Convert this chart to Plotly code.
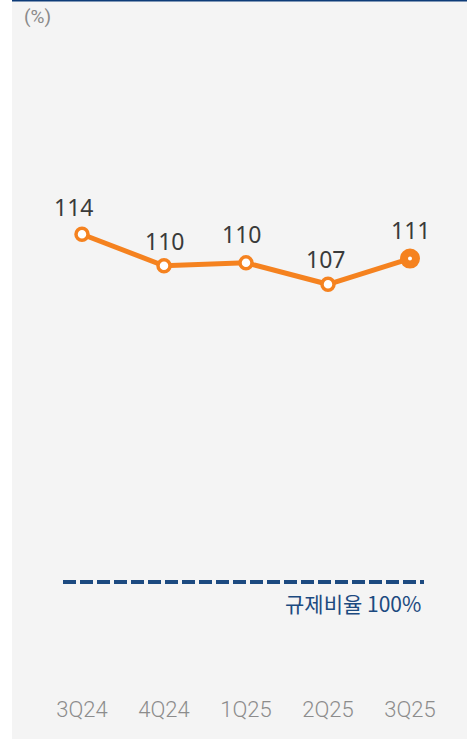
import plotly.graph_objects as go

quarters = ["3Q24", "4Q24", "1Q25", "2Q25", "3Q25"]
ratio = [114.0, 109.6, 110.0, 107.0, 110.6]
ratio_labels = ["114", "110", "110", "107", "111"]
unit_label = "(%)"
reg_label = "규제비율 100%"

# label nudges (style only)
label_dx = [-9, 0, -5, -3, 0]
label_dy = [9, 7, 11, 7, 11]

W, H = 467, 739
ML, MR, MT, MB = 41, 16, 0, 45
PW, PH = W - ML - MR, H - MT - MB

def px_x(px):
    return (px - ML) / PW

def px_y(py):
    return 1 - (py - MT) / PH

orange = "#f5821f"
navy = "#1c4a80"

n = len(quarters)
sizes = [12] * (n - 1) + [12]
lwidths = [3.5] * (n - 1) + [8]

fig = go.Figure()
fig.add_trace(go.Scatter(
    x=quarters, y=ratio, mode="lines+markers",
    line=dict(color=orange, width=5),
    marker=dict(size=sizes, color="white", opacity=1,
                line=dict(color=orange, width=lwidths)),
    cliponaxis=False, hoverinfo="skip",
))

annotations = []
for q, v, t, dx, dy in zip(quarters, ratio, ratio_labels, label_dx, label_dy):
    annotations.append(dict(
        x=q, y=v, xref="x", yref="y", text=t, showarrow=False,
        xanchor="center", yanchor="bottom", xshift=dx, yshift=dy,
        font=dict(family="Noto Sans", size=23, color="#3a3a3a")))

annotations += [
    dict(text=unit_label, xref="paper", yref="paper", x=px_x(37), y=px_y(17),
         xanchor="center", yanchor="middle", showarrow=False,
         font=dict(family="Roboto", size=19, color="#8a8a8a")),
    dict(text=reg_label, xref="paper", yref="paper", x=px_x(423), y=px_y(603),
         xanchor="right", yanchor="middle", showarrow=False,
         font=dict(family="Noto Sans CJK KR", size=21, color=navy)),
]

fig.update_layout(
    width=W, height=H,
    margin=dict(l=ML, r=MR, t=MT, b=MB),
    paper_bgcolor="#f4f4f4", plot_bgcolor="#f4f4f4",
    showlegend=False,
    xaxis=dict(type="category", range=[-0.5, n - 0.5], showgrid=False, zeroline=False,
               showline=False, ticks="",
               tickfont=dict(family="Roboto", size=22, color="#8c8c8c", weight=300)),
    yaxis=dict(range=[49.64, 146.80], visible=False, showgrid=False, zeroline=False),
    shapes=[
        dict(type="rect", xref="paper", yref="paper", x0=px_x(0), x1=px_x(12),
             y0=px_y(H + 2), y1=px_y(-2), fillcolor="white", line=dict(width=0), layer="below"),
        dict(type="line", xref="paper", yref="paper", x0=px_x(12), x1=px_x(W + 2),
             y0=px_y(0.7), y1=px_y(0.7), line=dict(color="#0d3b78", width=1.5)),
        dict(type="line", xref="paper", yref="paper", x0=px_x(63), x1=px_x(424),
             y0=px_y(582), y1=px_y(582), line=dict(color=navy, width=4, dash="13px,4px")),
    ],
    annotations=annotations,
)

fig.write_html("out.html", config={"displayModeBar": False},
               post_script="document.body.style.margin='0';document.body.style.padding='0';")
